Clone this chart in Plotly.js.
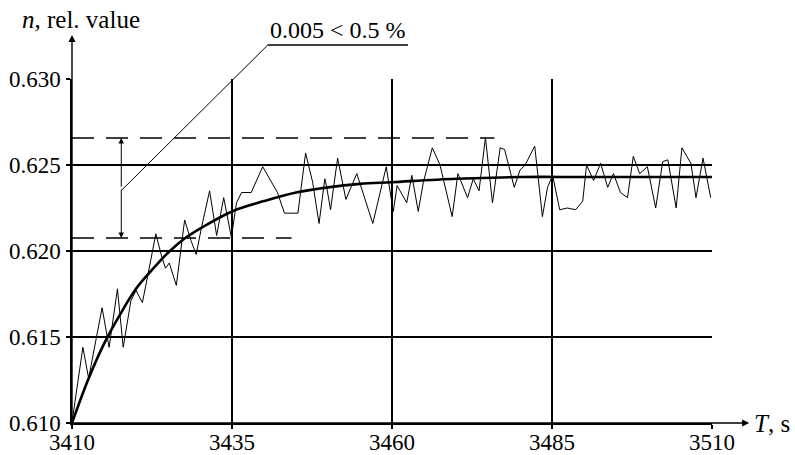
<!DOCTYPE html>
<html>
<head>
<meta charset="utf-8">
<script src="https://cdn.plot.ly/plotly-3.0.1.min.js"></script>
<style>html,body{margin:0;padding:0;background:#fff;}#chart{width:795px;height:455px;}</style>
</head>
<body>
<div id="chart"></div>
<script>
// Measured (noisy) series
const noisyT = [3410.1,3411.7,3412.6,3414.7,3415.8,3417.1,3418.0,3419.2,3420.0,3421.0,3421.8,3423.1,3424.0,3424.6,3425.2,3426.3,3427.6,3428.6,3429.4,3430.2,3431.5,3432.6,3433.7,3434.9,3435.7,3436.5,3438.0,3439.8,3442.1,3443.2,3445.3,3446.5,3447.6,3448.6,3449.5,3449.8,3450.4,3451.5,3452.8,3454.5,3457.0,3459.1,3460.2,3460.8,3462.3,3463.1,3464.1,3464.9,3466.3,3467.5,3469.4,3470.3,3471.8,3472.7,3473.6,3474.6,3475.7,3476.9,3477.6,3479.1,3480.0,3480.8,3482.3,3483.5,3484.3,3485.1,3486.2,3487.4,3488.7,3489.8,3490.4,3491.5,3492.6,3493.7,3494.6,3495.7,3496.8,3497.7,3498.7,3499.9,3501.2,3502.3,3503.1,3504.4,3505.3,3506.7,3507.5,3508.6,3509.8];
const noisyN = [0.6103,0.6144,0.6126,0.6167,0.6144,0.6178,0.6144,0.6171,0.6177,0.6170,0.6185,0.6210,0.6197,0.6190,0.6193,0.6180,0.6218,0.6206,0.6198,0.6213,0.6235,0.6209,0.6231,0.6208,0.6228,0.6234,0.6234,0.6249,0.6234,0.6222,0.6222,0.6257,0.6240,0.6216,0.6242,0.6237,0.6224,0.6254,0.6230,0.6245,0.6216,0.6249,0.6223,0.6238,0.6228,0.6244,0.6223,0.6240,0.6260,0.6250,0.6220,0.6245,0.6231,0.6242,0.6235,0.6266,0.6228,0.6260,0.6259,0.6237,0.6247,0.6250,0.6261,0.6220,0.6237,0.6244,0.6224,0.6225,0.6224,0.6229,0.6250,0.6241,0.6251,0.6237,0.6245,0.6234,0.6231,0.6255,0.6245,0.6249,0.6225,0.6252,0.6253,0.6225,0.6260,0.6251,0.6231,0.6254,0.6231];

// Smooth (approximating) curve
const smoothT = [3410,3412.5,3415,3417.5,3420,3422.5,3425,3427.5,3430,3435,3440,3445,3450,3455,3460,3470,3480,3490,3500,3510];
const smoothN = [0.6100,0.6125,0.6146,0.6163,0.6178,0.6189,0.6199,0.6207,0.6213,0.6223,0.6229,0.6234,0.6237,0.6239,0.6240,0.6242,0.6243,0.6243,0.6243,0.6243];

// Tolerance band and annotation
const bandUpper = 0.62657, bandLower = 0.62076;
const bandUpperEnd = 3476, bandLowerEnd = 3444.3, bandStart = 3410;
const arrowT = 3417.7;
const leaderStart = [3417.8, 0.62355], leaderKnee = [3440.6, 0.63198], leaderEnd = 3462.5;
const annText = '0.005 &lt; 0.5 %';

const xTicks = [3410,3435,3460,3485,3510];
const yTicks = [0.610,0.615,0.620,0.625,0.630];
const X0 = 3410, X1 = 3510, Y0 = 0.610, Y1 = 0.630;
const px = t => (t - X0) / (X1 - X0);
const py = v => (v - Y0) / (Y1 - Y0);

const FONT = 'Liberation Serif';

const traces = [
  {x: noisyT, y: noisyN, mode: 'lines', line: {color: '#000', width: 1}, hoverinfo: 'skip'},
  {x: smoothT, y: smoothN, mode: 'lines', line: {color: '#000', width: 2.6, shape: 'spline', smoothing: 1}, hoverinfo: 'skip'}
];

const axisCommon = {
  showgrid: true, gridcolor: '#000', gridwidth: 1.6,
  showline: true, linecolor: '#000', linewidth: 1.6,
  ticks: 'outside', ticklen: 4, tickcolor: '#000', tickwidth: 1.6,
  zeroline: false, tickfont: {family: FONT, size: 23, color: '#000'}, fixedrange: true
};

const layout = {
  width: 795, height: 455,
  margin: {l: 72, r: 83, t: 79, b: 32},
  paper_bgcolor: '#fff', plot_bgcolor: '#fff',
  showlegend: false,
  font: {family: FONT, size: 23, color: '#000'},
  xaxis: Object.assign({}, axisCommon, {range: [X0, X1], tickvals: xTicks, ticktext: xTicks.map(String), ticklabelstandoff: -6}),
  yaxis: Object.assign({}, axisCommon, {range: [Y0, Y1], tickvals: yTicks, ticktext: yTicks.map(v => v.toFixed(3)), ticklabelstandoff: 1}),
  shapes: [
    {type: 'line', xref: 'x', yref: 'y', x0: bandStart, x1: bandUpperEnd, y0: bandUpper, y1: bandUpper, line: {color: '#000', width: 1.5, dash: '22px,12px'}},
    {type: 'line', xref: 'x', yref: 'y', x0: bandStart, x1: bandLowerEnd, y0: bandLower, y1: bandLower, line: {color: '#000', width: 1.5, dash: '22px,12px'}},
    {type: 'line', xref: 'paper', yref: 'paper', x0: px(leaderStart[0]), y0: py(leaderStart[1]), x1: px(leaderKnee[0]), y1: py(leaderKnee[1]), line: {color: '#000', width: 1}},
    {type: 'line', xref: 'paper', yref: 'paper', x0: px(leaderKnee[0]), y0: py(leaderKnee[1]), x1: px(leaderEnd), y1: py(leaderKnee[1]), line: {color: '#000', width: 1.4}}
  ],
  annotations: [
    // double arrow
    {xref: 'x', yref: 'y', axref: 'x', ayref: 'y', x: arrowT, y: bandUpper, ax: arrowT, ay: (bandUpper + bandLower) / 2, showarrow: true, arrowhead: 2, arrowsize: 1.1, arrowwidth: 1, arrowcolor: '#000', text: ''},
    {xref: 'x', yref: 'y', axref: 'x', ayref: 'y', x: arrowT, y: bandLower, ax: arrowT, ay: (bandUpper + bandLower) / 2, showarrow: true, arrowhead: 2, arrowsize: 1.1, arrowwidth: 1, arrowcolor: '#000', text: ''},
    // axis arrows
    {xref: 'paper', yref: 'paper', x: 0, y: 1.128, ax: 0, ay: 388, showarrow: true, arrowhead: 2, arrowsize: 1, arrowwidth: 1.4, arrowcolor: '#000', text: ''},
    {xref: 'paper', yref: 'paper', x: 1.058, y: 0, ax: -677, ay: 0, showarrow: true, arrowhead: 2, arrowsize: 1, arrowwidth: 1.4, arrowcolor: '#000', text: ''},
    // labels
    {xref: 'paper', yref: 'paper', x: 1.062, y: 0, xanchor: 'left', yanchor: 'middle', showarrow: false, text: '<i>T</i>, s', font: {family: FONT, size: 25, color: '#000'}},
    {xref: 'paper', yref: 'paper', x: -0.081, y: 1.172, xanchor: 'left', yanchor: 'middle', showarrow: false, text: '<i>n</i>, rel. value', font: {family: FONT, size: 25, color: '#000'}},
    {xref: 'paper', yref: 'paper', x: (px(leaderKnee[0]) + px(leaderEnd)) / 2, y: py(leaderKnee[1]), xanchor: 'center', yanchor: 'bottom', showarrow: false, text: annText, font: {family: FONT, size: 24, color: '#000'}}
  ]
};

Plotly.newPlot('chart', traces, layout, {displayModeBar: false, staticPlot: true});
</script>
</body>
</html>
